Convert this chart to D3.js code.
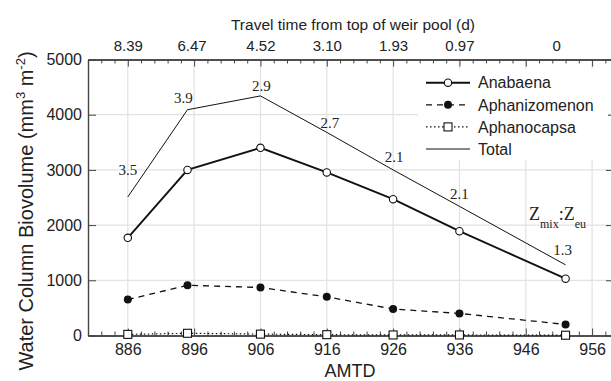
<!DOCTYPE html>
<html>
<head>
<meta charset="utf-8">
<script src="https://cdn.jsdelivr.net/npm/d3@7"></script>
<style>
  body { margin: 0; background: #fff; }
  text { fill: #222; }
</style>
</head>
<body>
<div id="chart"></div>
<script>
// data
var amtd = [886, 895, 906, 916, 926, 936, 952];
var anabaena = [1770, 3000, 3400, 2955, 2470, 1890, 1030];
var aphanizomenon = [650, 910, 870, 700, 480, 400, 200];
var aphanocapsa = [20, 40, 25, 15, 10, 10, 5];
var total = [2510, 4090, 4340, 3680, 3000, 2340, 1280];
var zRatio = ["3.5", "3.9", "2.9", "2.7", "2.1", "2.1", "1.3"];
var travelTime = ["8.39", "6.47", "4.52", "3.10", "1.93", "0.97", "0"];
var travelAt = [886, 895.6, 906, 916, 926, 936, 950.6];
var xTicks = [886, 896, 906, 916, 926, 936, 946, 956];
var yTicks = [0, 1000, 2000, 3000, 4000, 5000];

function chart(){
    var width = 611, height = 381;
    var left = 88, right = 612, top = 59.5, bottom = 335.5;

    var svg = d3.select("#chart")
        .append("svg")
        .attr("width", width)
        .attr("height", height)
        .style("font-family", "'Liberation Sans', Arial, sans-serif");

    var x = d3.scaleLinear().domain([880, 959]).range([left, right]);
    var y = d3.scaleLinear().domain([0, 5000]).range([bottom, top]);
    var minor = d3.range(880, 960, 2).filter(function(d){ return xTicks.indexOf(d) < 0; });

    // grid
    svg.append("g").selectAll("line")
        .data(xTicks).enter().append("line")
        .attr("x1", function(d){ return x(d); }).attr("x2", function(d){ return x(d); })
        .attr("y1", top).attr("y2", bottom)
        .attr("stroke", "#e2e2e2").attr("stroke-width", 1.2);
    svg.append("g").selectAll("line")
        .data(yTicks.slice(1, -1)).enter().append("line")
        .attr("x1", left).attr("x2", right)
        .attr("y1", function(d){ return y(d); }).attr("y2", function(d){ return y(d); })
        .attr("stroke", "#e2e2e2").attr("stroke-width", 1.2);

    // axes, ticks pointing inwards
    var bx = svg.append("g").attr("transform", "translate(0," + bottom + ")")
        .call(d3.axisBottom(x).tickValues(xTicks).tickSizeInner(-7).tickSizeOuter(0).tickPadding(8));
    svg.append("g").attr("transform", "translate(0," + bottom + ")")
        .call(d3.axisBottom(x).tickValues(minor).tickSizeInner(-4).tickSizeOuter(0).tickFormat(""));
    svg.append("g").attr("transform", "translate(0," + top + ")")
        .call(d3.axisTop(x).tickValues(xTicks).tickSizeInner(-7).tickSizeOuter(0).tickFormat(""));
    svg.append("g").attr("transform", "translate(0," + top + ")")
        .call(d3.axisTop(x).tickValues(minor).tickSizeInner(-4).tickSizeOuter(0).tickFormat(""));
    var tx = svg.append("g").attr("transform", "translate(0," + top + ")")
        .call(d3.axisTop(x).tickValues(travelAt).tickSize(0).tickPadding(8.5)
            .tickFormat(function(d, i){ return travelTime[i]; }));
    tx.select(".domain").remove();
    var ly = svg.append("g").attr("transform", "translate(" + left + ",0)")
        .call(d3.axisLeft(y).tickValues(yTicks).tickSizeInner(-8).tickSizeOuter(0).tickPadding(6)
            .tickFormat(d3.format("d")));
    svg.append("g").attr("transform", "translate(" + right + ",0)")
        .call(d3.axisRight(y).tickValues(yTicks).tickSizeInner(-6).tickSizeOuter(0).tickFormat(""));

    svg.selectAll(".domain").attr("stroke", "#444").attr("stroke-width", 1.4);
    svg.selectAll(".tick line").attr("stroke", "#444");
    bx.selectAll("text").style("font-size", "16px").attr("fill", "#222");
    ly.selectAll("text").style("font-size", "16px").attr("fill", "#222");
    tx.selectAll("text").style("font-size", "15px").attr("fill", "#222");

    // axis titles
    svg.append("text")
        .attr("x", 353).attr("y", 30)
        .attr("text-anchor", "middle")
        .style("font-size", "15.5px")
        .text("Travel time from top of weir pool (d)");
    svg.append("text")
        .attr("x", 350).attr("y", 377)
        .attr("text-anchor", "middle")
        .style("font-size", "18px")
        .text("AMTD");
    var yt = svg.append("text")
        .attr("transform", "translate(33,211) rotate(-90)")
        .attr("text-anchor", "middle")
        .style("font-size", "20px");
    yt.append("tspan").text("Water Column Biovolume (mm");
    yt.append("tspan").attr("dy", -8).style("font-size", "13px").text("3");
    yt.append("tspan").attr("dy", 8).text(" m");
    yt.append("tspan").attr("dy", -8).style("font-size", "13px").text("-2");
    yt.append("tspan").attr("dy", 8).text(")");

    // series
    function line(vals){
        return d3.line()
            .x(function(d, i){ return x(amtd[i]); })
            .y(function(d){ return y(d); })(vals);
    }
    svg.append("path").attr("d", line(total))
        .attr("fill", "none").attr("stroke", "#111").attr("stroke-width", 1);
    svg.append("path").attr("d", line(aphanocapsa))
        .attr("fill", "none").attr("stroke", "#111").attr("stroke-width", 1.2)
        .attr("stroke-dasharray", "1.5,2.5");
    svg.append("path").attr("d", line(aphanizomenon))
        .attr("fill", "none").attr("stroke", "#111").attr("stroke-width", 1.3)
        .attr("stroke-dasharray", "6,5");
    svg.append("path").attr("d", line(anabaena))
        .attr("fill", "none").attr("stroke", "#111").attr("stroke-width", 1.9);

    svg.append("g").selectAll("rect")
        .data(aphanocapsa).enter().append("rect")
        .attr("x", function(d, i){ return x(amtd[i]) - 4; })
        .attr("y", function(d){ return y(d) - 4; })
        .attr("width", 8).attr("height", 8)
        .attr("fill", "#fff").attr("stroke", "#111").attr("stroke-width", 1.1);
    svg.append("g").selectAll("circle")
        .data(aphanizomenon).enter().append("circle")
        .attr("cx", function(d, i){ return x(amtd[i]); })
        .attr("cy", function(d){ return y(d); })
        .attr("r", 4).attr("fill", "#111");
    svg.append("g").selectAll("circle")
        .data(anabaena).enter().append("circle")
        .attr("cx", function(d, i){ return x(amtd[i]); })
        .attr("cy", function(d){ return y(d); })
        .attr("r", 3.7).attr("fill", "#fff").attr("stroke", "#111").attr("stroke-width", 1.1);

    // Zmix:Zeu labels above the total line
    var nudge = [[0, -22], [-4, -7], [1, -5], [3, -4], [1, -8], [0, -7], [-3, -10]];
    svg.append("g").selectAll("text")
        .data(zRatio).enter().append("text")
        .attr("x", function(d, i){ return x(amtd[i]) + nudge[i][0]; })
        .attr("y", function(d, i){ return y(total[i]) + nudge[i][1]; })
        .attr("text-anchor", "middle")
        .style("font-family", "'Liberation Serif', 'Times New Roman', serif")
        .style("font-size", "15px")
        .text(function(d){ return d; });
    var zt = svg.append("text")
        .attr("x", 529).attr("y", 220)
        .style("font-family", "'Liberation Serif', 'Times New Roman', serif")
        .style("font-size", "18px");
    zt.append("tspan").text("Z");
    zt.append("tspan").attr("dy", 8).style("font-size", "12px").text("mix");
    zt.append("tspan").attr("dy", -8).text(":Z");
    zt.append("tspan").attr("dy", 8).style("font-size", "12px").text("eu");

    // legend
    var legend = svg.append("g");
    legend.append("rect").attr("x", 418).attr("y", 69).attr("width", 190).attr("height", 91).attr("fill", "#fff");
    var rows = [
        {name: "Anabaena", dash: null, w: 1.9, mark: "open"},
        {name: "Aphanizomenon", dash: "6,5", w: 1.3, mark: "filled"},
        {name: "Aphanocapsa", dash: "1.5,2.5", w: 1.2, mark: "square"},
        {name: "Total", dash: null, w: 1, mark: null}
    ];
    rows.forEach(function(r, i){
        var ry = 82.7 + i * 22.1;
        legend.append("line").attr("x1", 426).attr("x2", 470).attr("y1", ry).attr("y2", ry)
            .attr("stroke", "#111").attr("stroke-width", r.w).attr("stroke-dasharray", r.dash);
        if(r.mark == "open")
            legend.append("circle").attr("cx", 448).attr("cy", ry).attr("r", 3.7)
                .attr("fill", "#fff").attr("stroke", "#111").attr("stroke-width", 1.1);
        if(r.mark == "filled")
            legend.append("circle").attr("cx", 448).attr("cy", ry).attr("r", 4).attr("fill", "#111");
        if(r.mark == "square")
            legend.append("rect").attr("x", 444).attr("y", ry - 4).attr("width", 8).attr("height", 8)
                .attr("fill", "#fff").attr("stroke", "#111").attr("stroke-width", 1.1);
        legend.append("text").attr("x", 478).attr("y", ry).attr("dy", "0.36em")
            .style("font-size", "16px").text(r.name);
    });
}

chart();
</script>
</body>
</html>
